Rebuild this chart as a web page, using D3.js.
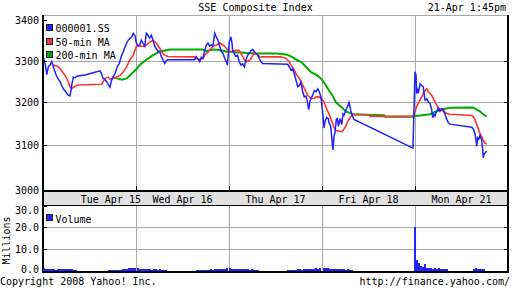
<!DOCTYPE html>
<html>
<head>
<meta charset="utf-8">
<script src="https://cdn.jsdelivr.net/npm/d3@7/dist/d3.min.js"></script>
<style>
  body { margin: 0; background: #fff; }
  svg { display: block; }
  text { font-family: "DejaVu Sans Mono", monospace; font-size: 10px; fill: #000; }
</style>
</head>
<body>
<script>
// time is in trading days from Tue Apr 15 open (0) to Mon Apr 21 close (5)
const dayLabels = ["Tue Apr 15", "Wed Apr 16", "Thu Apr 17", "Fri Apr 18", "Mon Apr 21"];
const priceTicks = [3000, 3100, 3200, 3300, 3400];
const volTicks = [0, 10, 20, 30];

// 000001.SS  [day, index]
const price = [
  [0.003,3310],[0.025,3290],[0.040,3266],[0.058,3285],[0.076,3289],[0.094,3297],[0.112,3285],[0.129,3272],
  [0.147,3262],[0.165,3255],[0.183,3249],[0.201,3240],[0.219,3232],[0.237,3227],[0.254,3222],[0.272,3217],
  [0.290,3215],[0.300,3228],[0.309,3241],[0.326,3260],[0.344,3258],[0.362,3262],[0.450,3265],[0.530,3270],
  [0.613,3275],[0.630,3268],[0.645,3258],[0.665,3254],[0.685,3249],[0.702,3242],[0.720,3236],[0.739,3254],
  [0.756,3262],[0.774,3268],[0.799,3285],[0.820,3293],[0.846,3313],[0.864,3322],[0.882,3333],[0.900,3343],
  [0.917,3350],[0.936,3355],[0.954,3358],[0.971,3367],[0.989,3361],
  [1.003,3343],[1.022,3335],[1.040,3338],[1.057,3350],[1.075,3342],[1.094,3335],[1.111,3367],[1.129,3362],
  [1.147,3355],[1.165,3362],[1.183,3350],[1.201,3335],[1.237,3322],[1.255,3322],[1.272,3310],[1.290,3302],
  [1.308,3293],[1.326,3300],[1.344,3302],[1.631,3302],[1.648,3310],[1.685,3297],[1.702,3308],[1.720,3305],
  [1.739,3325],[1.756,3338],[1.774,3343],[1.792,3335],[1.810,3338],[1.828,3335],[1.846,3367],[1.863,3358],
  [1.882,3350],[1.900,3335],[1.917,3322],[1.935,3318],[1.954,3305],[1.971,3297],[1.982,3289],
  [2.003,3345],[2.022,3358],[2.032,3343],[2.039,3325],[2.057,3317],[2.075,3310],[2.093,3313],[2.110,3297],
  [2.129,3289],[2.147,3292],[2.165,3285],[2.183,3302],[2.201,3313],[2.218,3317],[2.237,3325],[2.255,3327],
  [2.272,3322],[2.290,3317],[2.308,3313],[2.326,3305],[2.344,3297],[2.362,3293],[2.631,3291],[2.648,3285],
  [2.667,3277],[2.685,3280],[2.702,3268],[2.720,3253],[2.739,3237],[2.756,3240],[2.774,3248],[2.792,3225],
  [2.810,3213],[2.828,3215],[2.846,3198],[2.857,3183],[2.871,3203],[2.882,3209],[2.900,3217],[2.917,3228],
  [2.935,3225],[2.954,3232],[2.971,3225],[2.989,3213],
  [3.005,3180],[3.022,3140],[3.032,3155],[3.051,3165],[3.068,3162],[3.075,3152],[3.094,3144],[3.104,3120],
  [3.118,3090],[3.129,3120],[3.140,3130],[3.154,3160],[3.165,3162],[3.176,3144],[3.194,3162],[3.212,3148],
  [3.226,3173],[3.237,3170],[3.255,3181],[3.272,3189],[3.290,3200],[3.301,3189],[3.309,3181],[3.326,3169],
  [3.344,3160],[3.978,3094],
  [4.000,3273],[4.011,3265],[4.018,3221],[4.029,3228],[4.035,3221],[4.054,3244],[4.072,3240],[4.089,3237],
  [4.097,3221],[4.108,3205],[4.126,3208],[4.143,3201],[4.161,3198],[4.179,3183],[4.190,3164],[4.204,3172],
  [4.215,3168],[4.233,3179],[4.251,3187],[4.269,3179],[4.287,3185],[4.304,3183],[4.323,3172],[4.341,3160],
  [4.358,3153],[4.376,3149],[4.610,3142],[4.627,3138],[4.645,3127],[4.656,3112],[4.663,3098],[4.674,3118],
  [4.688,3115],[4.699,3123],[4.717,3112],[4.728,3090],[4.734,3072],[4.742,3080],[4.753,3083],[4.771,3087]
];

// 50-min moving average
const ma50 = [
  [0.111,3289],[0.165,3285],[0.201,3275],[0.237,3264],[0.272,3249],[0.290,3237],[0.309,3233],[0.344,3238],
  [0.380,3241],[0.631,3243],[0.667,3257],[0.702,3260],[0.720,3255],[0.756,3257],[0.792,3260],[0.828,3264],
  [0.863,3272],[0.900,3285],[0.935,3302],[0.971,3313],[0.989,3325],
  [1.008,3338],[1.040,3335],[1.078,3335],[1.111,3338],[1.147,3345],[1.183,3350],[1.218,3343],[1.255,3330],
  [1.290,3317],[1.308,3313],[1.344,3310],[1.631,3309],[1.648,3305],[1.685,3303],[1.720,3305],[1.739,3313],
  [1.756,3317],[1.792,3325],[1.828,3335],[1.863,3338],[1.900,3343],[1.935,3338],[1.971,3330],
  [2.008,3322],[2.039,3322],[2.075,3325],[2.110,3325],[2.129,3317],[2.147,3310],[2.165,3302],[2.183,3297],
  [2.218,3300],[2.237,3305],[2.255,3313],[2.272,3317],[2.308,3315],[2.326,3310],[2.362,3309],[2.559,3309],
  [2.613,3305],[2.648,3297],[2.667,3289],[2.702,3277],[2.720,3268],[2.756,3257],[2.774,3249],[2.792,3241],
  [2.810,3233],[2.828,3225],[2.846,3217],[2.863,3213],[2.882,3209],[2.917,3209],[2.935,3213],[2.971,3213],
  [3.008,3205],[3.022,3201],[3.040,3190],[3.057,3181],[3.075,3173],[3.094,3162],[3.111,3153],[3.129,3142],
  [3.147,3134],[3.201,3132],[3.218,3132],[3.237,3138],[3.255,3144],[3.272,3153],[3.290,3160],[3.309,3166],
  [3.326,3171],[3.505,3171],[3.516,3167],[3.978,3167],
  [4.000,3179],[4.018,3190],[4.054,3205],[4.072,3213],[4.089,3221],[4.108,3228],[4.126,3232],[4.143,3225],
  [4.161,3221],[4.179,3217],[4.197,3209],[4.215,3201],[4.233,3194],[4.251,3187],[4.269,3184],[4.287,3181],
  [4.304,3179],[4.341,3174],[4.376,3172],[4.610,3169],[4.627,3166],[4.645,3160],[4.663,3149],[4.681,3138],
  [4.699,3127],[4.717,3120],[4.734,3112],[4.753,3105],[4.771,3103]
];

// 200-min moving average
const ma200 = [
  [0.756,3260],[0.796,3257],[0.846,3254],[0.900,3257],[0.935,3264],[0.971,3272],
  [1.008,3280],[1.040,3289],[1.111,3302],[1.183,3313],[1.255,3322],[1.326,3325],[1.362,3327],[1.720,3327],
  [1.756,3323],[1.792,3325],[1.828,3327],[1.900,3326],[1.971,3322],
  [2.075,3320],[2.290,3317],[2.505,3317],[2.613,3315],[2.667,3310],[2.720,3303],[2.774,3297],[2.828,3285],
  [2.882,3272],[2.935,3266],[2.971,3260],
  [3.003,3253],[3.040,3241],[3.075,3228],[3.111,3217],[3.147,3201],[3.183,3194],[3.218,3187],[3.255,3179],
  [3.290,3176],[3.326,3172],[3.667,3170],[3.677,3166],[3.978,3166],
  [4.000,3168],[4.054,3169],[4.161,3172],[4.233,3179],[4.304,3184],[4.376,3187],[4.627,3188],[4.663,3183],
  [4.699,3179],[4.734,3172],[4.771,3167]
];

// volume in millions, one bar every 2 px-equivalent (1/46.5 day) from each session start
const volSessions = [
  { start: 0.000, vals: [1.5,1.0,0.9,0.7,0.8,0.9,0.6,0.9,1.0,0.7,1.1,0.8,0.9,0.7,0.8,0.6,0.4] },
  { start: 0.700, vals: [0.3,0.3,0.4,0.4,0.5,0.5,0.6,0.8,0.7,1.0,1.4,1.2,1.6,1.3] },
  { start: 1.007, vals: [1.2,1.0,0.8,1.0,0.7,0.9,0.8,0.6,0.8,0.7,0.6,0.7,0.5,0.6,0.5] },
  { start: 1.645, vals: [0.3,0.3,0.4,0.5,0.4,0.6,0.5,0.7,0.6,0.8,0.7,0.9,1.0,0.8,1.1,1.3] },
  { start: 2.000, vals: [1.3,1.1,0.9,1.0,0.8,0.9,0.7,0.8,0.7,0.8,0.6,0.7,0.5,0.4,0.3] },
  { start: 2.624, vals: [0.3,0.4,0.5,0.6,0.5,0.7,0.8,0.6,0.9,0.8,1.0,0.9,1.1,0.9,1.2,1.0,1.3] },
  { start: 3.008, vals: [1.6,1.2,1.4,1.0,1.1,0.9,1.0,0.8,0.9,0.7,0.8,0.6,0.7,0.5,0.5] },
  { start: 3.984, vals: [20.3,5.2,3.5,2.5,1.8,3.0,1.6,1.4,1.5,1.1,1.3,1.0,1.2,0.9,1.0,0.8,0.7] },
  { start: 4.624, vals: [0.8,1.2,1.0,0.9,1.1,0.8] }
];
const volStep = 1 / 46.5;

const blue = "#2222ff", red = "#ff3333", green = "#00aa00", grid = "#a8a8a8";

const W = 512, H = 288;
const left = 43, right = 508;
const svg = d3.select("body").append("svg").attr("width", W).attr("height", H);

const x = d3.scaleLinear().domain([0, 5]).range([left, right]);
const y = d3.scaleLog().domain([3000, 3400]).range([190, 20]);
const yv = d3.scaleLinear().domain([0, 30]).range([271, 205.6]);

// title
svg.append("text").attr("x", 255.5).attr("y", 11).attr("text-anchor", "middle").text("SSE Composite Index");
svg.append("text").attr("x", 506).attr("y", 11).attr("text-anchor", "end").text("21-Apr 1:45pm");

// ---- grid
const g = svg.append("g").attr("shape-rendering", "crispEdges");
g.append("line").attr("x1", left).attr("x2", right).attr("y1", 15.5).attr("y2", 15.5).attr("stroke", grid);
[3100, 3200, 3300].forEach(v => {
  g.append("line").attr("x1", left).attr("x2", right)
    .attr("y1", Math.round(y(v)) + 0.5).attr("y2", Math.round(y(v)) + 0.5).attr("stroke", grid);
});
d3.range(1, 5).forEach(d => {
  const xx = Math.round(x(d)) + 0.5;
  g.append("line").attr("x1", xx).attr("x2", xx).attr("y1", 16).attr("y2", 191).attr("stroke", grid);
  g.append("line").attr("x1", xx).attr("x2", xx).attr("y1", 186).attr("y2", 191).attr("stroke", "#000");
  g.append("line").attr("x1", xx).attr("x2", xx).attr("y1", 206).attr("y2", 271).attr("stroke", grid);
});
[10, 20].forEach(v => {
  g.append("line").attr("x1", left).attr("x2", right)
    .attr("y1", Math.round(yv(v)) + 0.5).attr("y2", Math.round(yv(v)) + 0.5).attr("stroke", grid);
});

// date band
g.append("rect").attr("x", left).attr("y", 192).attr("width", right - left).attr("height", 13).attr("fill", "#e0e0e0");
g.append("line").attr("x1", left).attr("x2", right).attr("y1", 205.5).attr("y2", 205.5).attr("stroke", "#000");
dayLabels.forEach((s, i) => {
  svg.append("text").attr("x", i === 0 ? x(0.73) : x(i + 0.5)).attr("y", 202.5)
    .attr("text-anchor", "middle").text(s);
});

// ---- lines
const line = d3.line().x(d => x(d[0])).y(d => y(d[1]));
svg.append("path").datum(ma200).attr("d", line).attr("fill", "none").attr("stroke", green).attr("stroke-width", 2);
svg.append("path").datum(ma50).attr("d", line).attr("fill", "none").attr("stroke", red).attr("stroke-width", 1.6);
svg.append("path").datum(price).attr("d", line).attr("fill", "none").attr("stroke", blue).attr("stroke-width", 1.5);

// ---- axes and frame
const fr = svg.append("g").attr("shape-rendering", "crispEdges");
fr.append("line").attr("x1", left).attr("x2", left).attr("y1", 15).attr("y2", 273).attr("stroke", "#000").attr("stroke-width", 2);
fr.append("line").attr("x1", right).attr("x2", right).attr("y1", 15).attr("y2", 273).attr("stroke", "#000").attr("stroke-width", 2);
fr.append("line").attr("x1", left).attr("x2", right).attr("y1", 191).attr("y2", 191).attr("stroke", "#000").attr("stroke-width", 2);
fr.append("line").attr("x1", left).attr("x2", right).attr("y1", 272).attr("y2", 272).attr("stroke", "#000").attr("stroke-width", 2);

// ---- volume bars
const bars = [];
volSessions.forEach(s => s.vals.forEach((v, i) => bars.push([s.start + i * volStep, v])));
svg.append("g").attr("shape-rendering", "crispEdges").selectAll("rect").data(bars).enter().append("rect")
  .attr("x", d => x(d[0]))
  .attr("y", d => yv(d[1]))
  .attr("width", 2)
  .attr("height", d => yv(0) - yv(d[1]))
  .attr("fill", blue);

const yAxis = svg.append("g").attr("transform", `translate(${left},0)`)
  .call(d3.axisLeft(y).tickValues(priceTicks).tickFormat(d3.format("d")).tickSizeInner(-4).tickSizeOuter(0).tickPadding(4));
yAxis.select(".domain").remove();
yAxis.attr("font-family", null).attr("font-size", null);
yAxis.selectAll("line").attr("stroke", "#000").attr("shape-rendering", "crispEdges");
yAxis.selectAll("text").attr("dy", "0.35em");

const yAxisR = svg.append("g").attr("transform", `translate(${right},0)`)
  .call(d3.axisRight(y).tickValues([3100, 3200, 3300]).tickFormat("").tickSizeInner(-4).tickSizeOuter(0));
yAxisR.select(".domain").remove();
yAxisR.selectAll("line").attr("stroke", "#000").attr("shape-rendering", "crispEdges");

const vAxis = svg.append("g").attr("transform", `translate(${left},0)`)
  .call(d3.axisLeft(yv).tickValues(volTicks).tickFormat(d3.format(".1f")).tickSizeInner(-4).tickSizeOuter(0).tickPadding(4));
vAxis.select(".domain").remove();
vAxis.attr("font-family", null).attr("font-size", null);
vAxis.selectAll("line").attr("stroke", "#000").attr("shape-rendering", "crispEdges");
vAxis.selectAll("text").attr("dy", d => d === 30 ? "0.75em" : d === 0 ? "0.1em" : "0.35em");

const vAxisR = svg.append("g").attr("transform", `translate(${right},0)`)
  .call(d3.axisRight(yv).tickValues([10, 20]).tickFormat("").tickSizeInner(-4).tickSizeOuter(0));
vAxisR.select(".domain").remove();
vAxisR.selectAll("line").attr("stroke", "#000").attr("shape-rendering", "crispEdges");

svg.append("text").attr("transform", "translate(10,240.5) rotate(-90)").attr("text-anchor", "middle").text("Millions");

// ---- legends
const legend = [["000001.SS", blue], ["50-min MA", red], ["200-min MA", green]];
legend.forEach((d, i) => {
  const ly = 24 + i * 13.5;
  svg.append("rect").attr("x", 46.5).attr("y", ly + 0.5).attr("width", 6).attr("height", 6)
    .attr("fill", d[1]).attr("stroke", "#222").attr("shape-rendering", "crispEdges");
  svg.append("text").attr("x", 55.5).attr("y", ly + 8).text(d[0]);
});
svg.append("rect").attr("x", 46.5).attr("y", 214.5).attr("width", 6).attr("height", 6)
  .attr("fill", blue).attr("stroke", "#222").attr("shape-rendering", "crispEdges");
svg.append("text").attr("x", 55.5).attr("y", 222.5).text("Volume");

// footer
svg.append("text").attr("x", 0).attr("y", 285).text("Copyright 2008 Yahoo! Inc.");
svg.append("text").attr("x", 510).attr("y", 285).attr("text-anchor", "end").text("http://finance.yahoo.com/");
</script>
</body>
</html>
